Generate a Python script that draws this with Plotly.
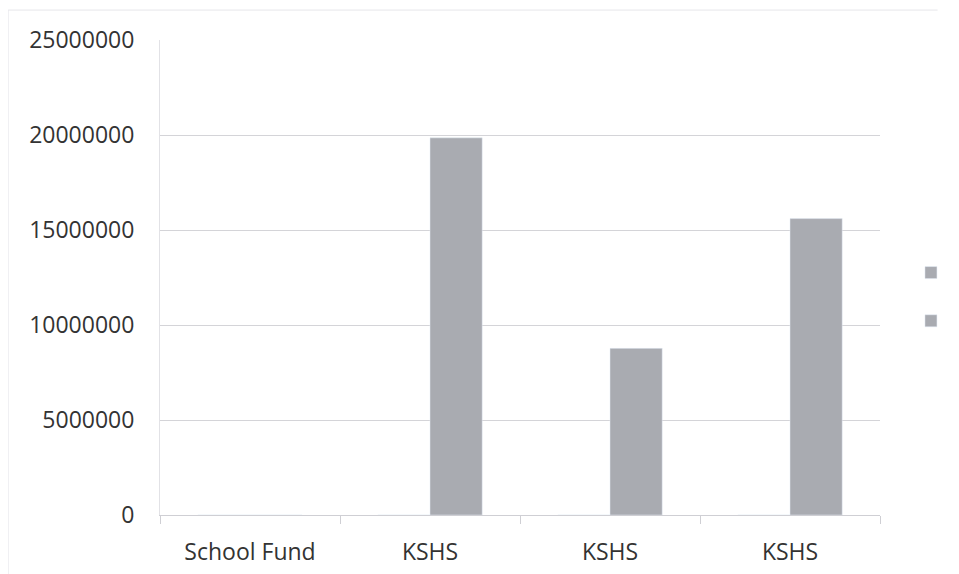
import plotly.graph_objects as go

categories = ["School Fund", "KSHS", "KSHS", "KSHS"]
series_a = [0, 0, 0, 0]
series_b = [0, 19850000, 8770000, 15600000]
y_ticks = [0, 5000000, 10000000, 15000000, 20000000, 25000000]

x_pos = list(range(len(categories)))
bar_color = "#a9abb1"

fig = go.Figure()
fig.add_trace(go.Bar(x=x_pos, y=series_a, name=" ", marker_color=bar_color,
                     legendgroup="a"))
fig.add_trace(go.Bar(x=x_pos, y=series_b, name=" ", marker_color=bar_color,
                     legendgroup="b"))

fig.update_layout(
    width=951, height=566,
    margin=dict(l=152, r=79, t=32, b=59, autoexpand=False),
    paper_bgcolor="white", plot_bgcolor="white",
    barmode="group", bargap=0.42, bargroupgap=0,
    font=dict(family="Open Sans", size=23, color="#333333"),
    showlegend=True,
    legend=dict(x=1.043, xanchor="left", y=0.459, yanchor="middle",
                font=dict(size=14), tracegroupgap=27,
                bgcolor="rgba(0,0,0,0)"),
    xaxis=dict(range=[-0.5, 3.5], tickmode="array", tickvals=x_pos,
               ticktext=categories, showgrid=False, zeroline=False,
               showline=True, linecolor="#cfcfd4", linewidth=1,
               ticks="", ticklabelstandoff=16,
               minor=dict(tickmode="array", tickvals=[-0.5, 0.5, 1.5, 2.5, 3.5],
                          ticks="outside", ticklen=8, tickcolor="#cfcfd4",
                          showgrid=False)),
    yaxis=dict(range=[0, 25000000], tickmode="array", tickvals=y_ticks,
               ticktext=[str(v) for v in y_ticks],
               showgrid=True, gridcolor="#d4d4d8", gridwidth=1,
               zeroline=False, showline=True, linecolor="#e2e2e6",
               ticks="", ticklabelstandoff=20),
    shapes=[
        dict(type="line", xref="paper", yref="paper", x0=-0.211, x1=-0.211,
             y0=-0.2, y1=1.063, line=dict(color="#e6e6ea", width=1)),
        dict(type="line", xref="paper", yref="paper", x0=-0.211, x1=1.08,
             y0=1.063, y1=1.063, line=dict(color="#e6e6ea", width=1)),
    ],
)

fig.write_html("out.html")
